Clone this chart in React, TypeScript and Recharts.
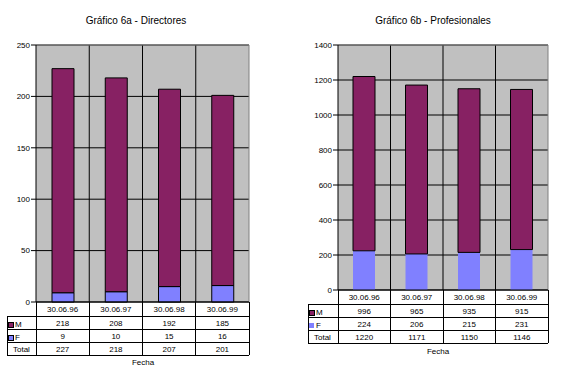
import React from 'react';
import { BarChart, Bar, XAxis, YAxis, CartesianGrid, ReferenceLine } from 'recharts';

const fechas = ['30.06.96', '30.06.97', '30.06.98', '30.06.99'];

const directoresM = [218, 208, 192, 185];
const directoresF = [9, 10, 15, 16];
const directoresTotal = [227, 218, 207, 201];
const directoresTicks = [0, 50, 100, 150, 200, 250];

const profesionalesM = [996, 965, 935, 915];
const profesionalesF = [224, 206, 215, 231];
const profesionalesTotal = [1220, 1171, 1150, 1146];
const profesionalesTicks = [0, 200, 400, 600, 800, 1000, 1200, 1400];

const FONT = '"Liberation Sans", Arial, sans-serif';
const COLOR_M = '#872163';
const COLOR_F = '#8080FF';
const PLOT_BG = '#C0C0C0';
const ROW_TOPS = [0, 14, 27, 40, 53];

interface PanelCfg {
  left: number;
  width: number;
  title: string;
  titleX: number;
  fechaX: number;
  fechaY: number;
  m: number[];
  f: number[];
  total: number[];
  ticks: number[];
  margin: { top: number; right: number; bottom: number; left: number };
  labelW: number;
  band: number;
  fOutline: boolean;
}

// draws one column of the data table under the plot (and the row labels for the first column)
function TableTick(props: any) {
  const { x, y, index, payload, cfg } = props;
  const c: PanelCfg = cfg;
  const band = typeof props.width === 'number' && props.width > 100 ? props.width / fechas.length : c.band;
  const x0 = x - band / 2;
  const x1 = x + band / 2;
  const tops = ROW_TOPS.map(v => y + v);
  const values = [payload.value, c.m[index], c.f[index], c.total[index]];
  const lx = x0 - c.labelW;

  return (
    <g shapeRendering="crispEdges">
      {values.map((v, r) => (
        <text
          key={r}
          x={x}
          y={(tops[r] + tops[r + 1]) / 2 + 3}
          textAnchor="middle"
          fontSize={8}
          fontFamily={FONT}
          fill="#000"
        >
          {v}
        </text>
      ))}
      <line x1={x0} y1={tops[0]} x2={x0} y2={tops[4]} stroke="#000" />
      <line x1={x1} y1={tops[0]} x2={x1} y2={tops[4]} stroke="#000" />
      {[1, 2, 3, 4].map(r => (
        <line key={r} x1={index === 0 ? lx : x0} y1={tops[r]} x2={x1} y2={tops[r]} stroke="#000" />
      ))}
      {index === 0 && (
        <g>
          <line x1={lx} y1={tops[1]} x2={lx} y2={tops[4]} stroke="#000" />
          <rect x={lx + 1} y={tops[1] + 6} width={5} height={5} fill={COLOR_M} stroke="#000" />
          <text x={lx + 8} y={tops[2] - 2} fontSize={8} fontFamily={FONT} fill="#000">M</text>
          <rect x={lx + 1} y={tops[2] + 6} width={5} height={5} fill={COLOR_F} stroke={c.fOutline ? '#000' : 'none'} />
          <text x={lx + 8} y={tops[3] - 2} fontSize={8} fontFamily={FONT} fill="#000">F</text>
          <text x={lx + 6} y={tops[4] - 3} fontSize={8} fontFamily={FONT} fill="#000">Total</text>
        </g>
      )}
    </g>
  );
}

function Panel({ cfg }: { cfg: PanelCfg }) {
  const data = fechas.map((fecha, i) => ({ fecha, M: cfg.m[i], F: cfg.f[i] }));
  const max = cfg.ticks[cfg.ticks.length - 1];

  return (
    <div style={{ position: 'absolute', left: cfg.left, top: 0, width: cfg.width, height: 385 }}>
      <div
        style={{
          position: 'absolute',
          left: cfg.titleX - cfg.left - 100,
          width: 200,
          top: 15,
          textAlign: 'center',
          fontSize: 10,
          fontFamily: FONT,
        }}
      >
        {cfg.title}
      </div>
      <BarChart width={cfg.width} height={385} data={data} margin={cfg.margin}>
        <CartesianGrid fill={PLOT_BG} fillOpacity={1} stroke="#000" vertical={false} />
        {fechas.map((fecha, i) => (
          <ReferenceLine
            key={fecha}
            x={fecha}
            position="end"
            stroke={i === fechas.length - 1 ? '#808080' : '#000'}
          />
        ))}
        <ReferenceLine y={max} stroke="#808080" />
        <XAxis
          dataKey="fecha"
          height={53}
          interval={0}
          tickLine={false}
          tickSize={0}
          tickMargin={0}
          axisLine={{ stroke: '#000' }}
          tick={(p: any) => <TableTick {...p} cfg={cfg} />}
        />
        <YAxis
          width={30}
          domain={[0, max]}
          ticks={cfg.ticks}
          interval={0}
          tickSize={5}
          tickMargin={1}
          tickLine={{ stroke: '#000' }}
          axisLine={{ stroke: '#000' }}
          tick={{ fontSize: 8, fill: '#000', fontFamily: FONT }}
        />
        <Bar
          dataKey="F"
          stackId="a"
          barSize={22}
          fill={COLOR_F}
          stroke={cfg.fOutline ? '#000' : 'none'}
          isAnimationActive={false}
        />
        <Bar dataKey="M" stackId="a" barSize={22} fill={COLOR_M} stroke="#000" isAnimationActive={false} />
      </BarChart>
      <div
        style={{
          position: 'absolute',
          left: cfg.fechaX - cfg.left - 30,
          width: 60,
          top: cfg.fechaY - 5,
          textAlign: 'center',
          fontSize: 8,
          fontFamily: FONT,
        }}
      >
        Fecha
      </div>
    </div>
  );
}

const directoresCfg: PanelCfg = {
  left: 0,
  width: 290,
  title: 'Gráfico 6a - Directores',
  titleX: 136,
  fechaX: 143,
  fechaY: 363,
  m: directoresM,
  f: directoresF,
  total: directoresTotal,
  ticks: directoresTicks,
  margin: { top: 45, right: 41, bottom: 30, left: 6 },
  labelW: 29,
  band: 213 / 4,
  fOutline: true,
};

const profesionalesCfg: PanelCfg = {
  left: 290,
  width: 279,
  title: 'Gráfico 6b - Profesionales',
  titleX: 433,
  fechaX: 438,
  fechaY: 352,
  m: profesionalesM,
  f: profesionalesF,
  total: profesionalesTotal,
  ticks: profesionalesTicks,
  margin: { top: 45, right: 21, bottom: 42, left: 18 },
  labelW: 30,
  band: 210 / 4,
  fOutline: false,
};

export default function App() {
  return (
    <div
      style={{
        position: 'absolute',
        left: 0,
        top: 0,
        width: 569,
        height: 385,
        background: '#fff',
        overflow: 'hidden',
      }}
    >
      <Panel cfg={directoresCfg} />
      <Panel cfg={profesionalesCfg} />
    </div>
  );
}
